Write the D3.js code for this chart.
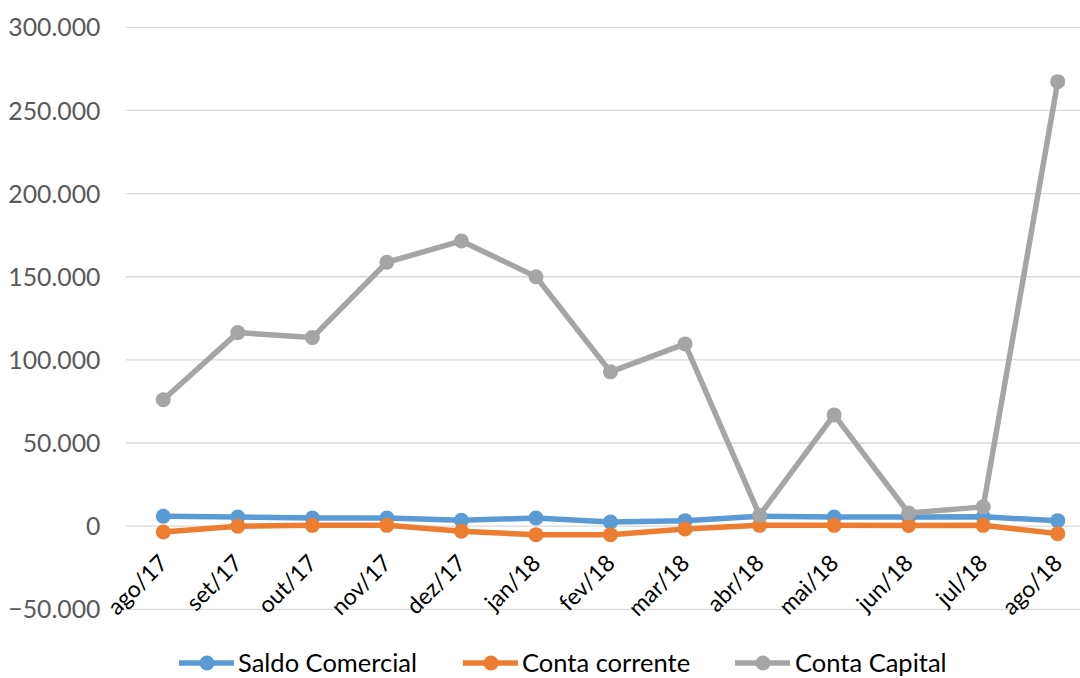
<!DOCTYPE html>
<html>
<head>
<meta charset="utf-8">
<script src="https://cdn.jsdelivr.net/npm/d3@7"></script>
<style>
  html, body { margin: 0; padding: 0; background: #fff; }
  svg { display: block; font-family: Lato, "Open Sans", sans-serif; }
</style>
</head>
<body>
<svg id="chart" width="1080" height="678"></svg>
<script>
const categories = ["ago/17","set/17","out/17","nov/17","dez/17","jan/18","fev/18","mar/18","abr/18","mai/18","jun/18","jul/18","ago/18"];
const saldoComercial = [6000, 5500, 4900, 4900, 3500, 4900, 2500, 3300, 5900, 5500, 5500, 5600, 3300];
const contaCorrente  = [-3500, 0, 500, 500, -3100, -5100, -5100, -1700, 500, 500, 400, 500, -4500];
const contaCapital   = [76000, 116400, 113400, 158700, 171500, 150000, 92800, 109600, 6500, 66900, 7900, 11600, 267300];
const yTicks = [-50000, 0, 50000, 100000, 150000, 200000, 250000, 300000];
const seriesNames = ["Saldo Comercial", "Conta corrente", "Conta Capital"];
const seriesColors = ["#5b9bd5", "#ed7d31", "#a5a5a5"];

const series = [
  { name: seriesNames[0], color: seriesColors[0], values: saldoComercial },
  { name: seriesNames[1], color: seriesColors[1], values: contaCorrente },
  { name: seriesNames[2], color: seriesColors[2], values: contaCapital }
];

const svg = d3.select("#chart");
const plotLeft = 126, plotRight = 1095, plotTop = 27.3, plotBottom = 609.3;

const x = d3.scalePoint().domain(categories).range([plotLeft, plotRight]).padding(0.5);
const y = d3.scaleLinear().domain([-50000, 300000]).range([plotBottom, plotTop]);

const fmt = v => v === 0 ? "0" : d3.format(",")(v).replace(/,/g, ".");

// gridlines
svg.append("g").selectAll("line").data(yTicks).join("line")
  .attr("x1", plotLeft).attr("x2", 1080)
  .attr("y1", d => y(d)).attr("y2", d => y(d))
  .attr("stroke", "#d9d9d9").attr("stroke-width", 1.3);

// y axis labels
const yAxis = d3.axisLeft(y).tickValues(yTicks).tickFormat(fmt).tickSize(0).tickPadding(0);
const yg = svg.append("g").attr("transform", `translate(100.5,0)`).call(yAxis);
yg.select(".domain").remove();
yg.selectAll("text").attr("font-size", 24.8).attr("fill", "#595959").attr("font-family", "Lato, sans-serif").attr("dy", "0.35em");

// x axis labels
const xAxis = d3.axisBottom(x).tickSize(0).tickPadding(0);
const xg = svg.append("g").attr("transform", `translate(0,${y(0)})`).call(xAxis);
xg.select(".domain").remove();
xg.selectAll("text")
  .attr("font-size", 23).attr("fill", "#000").attr("font-family", "Lato, sans-serif")
  .attr("text-anchor", "end")
  .attr("dy", null).attr("y", null)
  .attr("transform", "translate(-1,32) rotate(-45)")
  .attr("dominant-baseline", "central");

// lines
const line = d3.line().x((d, i) => x(categories[i])).y(d => y(d));
const plot = svg.append("g");
series.forEach(s => {
  plot.append("path").datum(s.values)
    .attr("fill", "none").attr("stroke", s.color).attr("stroke-width", 5.5)
    .attr("stroke-linejoin", "round").attr("d", line);
  plot.append("g").selectAll("circle").data(s.values).join("circle")
    .attr("cx", (d, i) => x(categories[i])).attr("cy", d => y(d))
    .attr("r", 7.5).attr("fill", s.color);
});

// legend
const legendItems = [
  { x0: 179, tx: 238 },
  { x0: 463, tx: 522 },
  { x0: 735, tx: 795 }
];
const ly = 663;
const lg = svg.append("g");
series.forEach((s, i) => {
  const it = legendItems[i];
  lg.append("line").attr("x1", it.x0).attr("x2", it.x0 + 55).attr("y1", ly).attr("y2", ly)
    .attr("stroke", s.color).attr("stroke-width", 5.5);
  lg.append("circle").attr("cx", it.x0 + 28).attr("cy", ly).attr("r", 7.5).attr("fill", s.color);
  lg.append("text").attr("x", it.tx).attr("y", ly).attr("dy", "0.35em")
    .attr("font-size", 25.5).attr("fill", "#000").text(s.name);
});
</script>
</body>
</html>
